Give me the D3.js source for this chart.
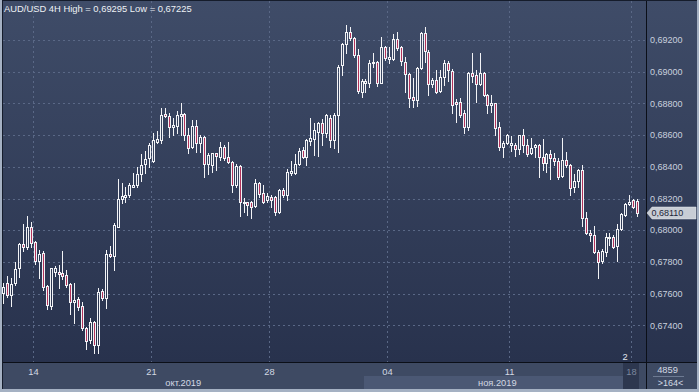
<!DOCTYPE html>
<html><head><meta charset="utf-8">
<script src="https://cdn.jsdelivr.net/npm/d3@7"></script>
<style>html,body{margin:0;padding:0;background:#a5b1c3}svg{display:block}</style>
</head><body><svg id="c" width="699" height="392"></svg>
<script>
// ---- data (AUD/USD 4H) ----
const open = [
.67602,.67665,.67592,.67665,.67760,.67913,.67897,.68023,.67928,.67808,
.67855,.67648,.67522,.67739,.67739,.67728,.67716,.67661,.67545,.67564,
.67522,.67386,.67308,.67419,.67277,.67615,.67571,.67850,.67840,.68023,
.68195,.68212,.68223,.68275,.68286,.68355,.68418,.68454,.68439,.68559,
.68570,.68734,.68721,.68654,.68658,.68721,.68731,.68601,.68523,.68658,
.68549,.68591,.68418,.68412,.68485,.68464,.68523,.68460,.68433,.68286,
.68405,.68170,.68176,.68176,.68153,.68300,.68233,.68191,.68212,.68212,
.68117,.68254,.68223,.68363,.68363,.68418,.68506,.68464,.68565,.68574,
.68622,.68675,.68612,.68706,.68569,.68727,.69042,.69175,.69252,.69210,
.69105,.68874,.68926,.68931,.69053,.69063,.68931,.69154,.69078,.69078,
.69204,.69154,.69063,.68985,.68838,.68821,.69021,.69242,.69126,.68922,
.68947,.68880,.68968,.69057,.69006,.68811,.68811,.68737,.68653,.68994,
.68979,.68922,.68994,.68853,.68790,.68801,.68649,.68523,.68552,.68538,
.68538,.68510,.68601,.68538,.68489,.68523,.68538,.68464,.68422,.68481,
.68454,.68439,.68342,.68443,.68411,.68271,.68313,.68380,.68075,.67985,
.67970,.67865,.67808,.67865,.67949,.67955,.67900,.68006,.68096,.68165,
.68191,.68186];
const high = [
.67665,.67712,.67697,.67800,.67918,.68037,.68090,.68054,.67934,.67876,
.67867,.67655,.67764,.67775,.67781,.67867,.67749,.67669,.67665,.67581,
.67550,.67392,.67449,.67425,.67638,.67627,.67876,.67901,.68044,.68323,
.68296,.68271,.68296,.68363,.68401,.68481,.68500,.68549,.68612,.68628,
.68769,.68769,.68742,.68706,.68755,.68801,.68738,.68643,.68696,.68696,
.68601,.68595,.68485,.68490,.68490,.68559,.68538,.68559,.68439,.68418,
.68412,.68202,.68180,.68185,.68321,.68307,.68286,.68233,.68223,.68216,
.68258,.68265,.68384,.68439,.68481,.68517,.68527,.68574,.68706,.68675,
.68685,.68700,.68734,.68727,.68737,.69042,.69179,.69295,.69284,.69221,
.69141,.68952,.68952,.69074,.69116,.69069,.69221,.69162,.69158,.69238,
.69252,.69162,.69095,.68990,.68958,.69032,.69252,.69280,.69137,.68958,
.69011,.69011,.69074,.69069,.69015,.68825,.68832,.68758,.69000,.69116,
.69011,.69116,.69000,.68859,.68853,.68805,.68685,.68565,.68607,.68594,
.68552,.68601,.68636,.68573,.68580,.68544,.68544,.68573,.68485,.68506,
.68489,.68454,.68580,.68496,.68418,.68355,.68384,.68411,.68117,.68001,
.68027,.67875,.67879,.67985,.67985,.67970,.68039,.68111,.68170,.68222,
.68195,.68195];
const low = [
.67539,.67581,.67522,.67655,.67707,.67871,.67880,.67897,.67787,.67701,
.67623,.67503,.67503,.67714,.67634,.67690,.67644,.67472,.67413,.67497,
.67371,.67249,.67287,.67228,.67225,.67560,.67507,.67833,.67749,.68019,
.68174,.68180,.68212,.68270,.68275,.68313,.68363,.68401,.68433,.68549,
.68553,.68717,.68591,.68601,.68612,.68601,.68570,.68485,.68517,.68496,
.68496,.68334,.68355,.68370,.68380,.68443,.68443,.68427,.68244,.68275,
.68090,.68117,.68096,.68075,.68149,.68212,.68174,.68180,.68149,.68096,
.68107,.68212,.68191,.68349,.68355,.68412,.68454,.68412,.68538,.68475,
.68469,.68538,.68591,.68527,.68516,.68495,.68979,.69116,.69200,.69095,
.68863,.68838,.68874,.68905,.69032,.68910,.68926,.69074,.69053,.69074,
.69137,.69042,.68874,.68779,.68775,.68783,.69015,.69063,.68853,.68905,
.68868,.68874,.68916,.68943,.68737,.68685,.68716,.68611,.68632,.68937,
.68811,.68916,.68847,.68742,.68748,.68601,.68506,.68460,.68544,.68502,
.68468,.68481,.68496,.68468,.68481,.68460,.68334,.68380,.68369,.68321,
.68411,.68321,.68338,.68401,.68222,.68243,.68275,.68027,.67976,.67934,
.67858,.67696,.67791,.67837,.67907,.67886,.67808,.68001,.68090,.68159,
.68138,.68090];
const close = [
.67644,.67592,.67661,.67754,.67913,.67897,.68023,.67918,.67808,.67850,
.67640,.67529,.67760,.67760,.67724,.67712,.67655,.67545,.67560,.67514,
.67381,.67304,.67419,.67277,.67611,.67571,.67850,.67838,.68033,.68197,
.68216,.68223,.68284,.68286,.68355,.68412,.68452,.68538,.68570,.68574,
.68727,.68720,.68649,.68664,.68727,.68731,.68601,.68517,.68658,.68549,
.68591,.68418,.68475,.68485,.68469,.68523,.68454,.68433,.68286,.68405,
.68180,.68180,.68159,.68149,.68296,.68229,.68180,.68216,.68191,.68117,
.68254,.68223,.68370,.68376,.68418,.68502,.68464,.68570,.68580,.68633,
.68675,.68616,.68727,.68569,.68727,.69032,.69175,.69252,.69210,.69105,
.68880,.68943,.68943,.69057,.69063,.68926,.69154,.69084,.69095,.69204,
.69147,.69069,.68985,.68832,.68821,.69021,.69246,.69133,.68922,.68947,
.68874,.68968,.69057,.69011,.68790,.68796,.68727,.68653,.68994,.68973,
.68922,.68994,.68853,.68790,.68801,.68643,.68523,.68548,.68601,.68552,
.68510,.68601,.68538,.68481,.68517,.68540,.68464,.68422,.68481,.68454,
.68439,.68338,.68443,.68411,.68264,.68313,.68380,.68075,.67985,.67970,
.67865,.67802,.67871,.67955,.67955,.67896,.68006,.68102,.68165,.68178,
.68149,.68110];
const weekStartIdx = [8, 38, 68, 98, 129, 160];
const weekLabels = ["14", "21", "28", "04", "11", "18"];
const monthStartIdx = [0, 92];
const monthLabels = ["окт.2019", "ноя.2019"];
const yTicks = [0.674, 0.676, 0.678, 0.680, 0.682, 0.684, 0.686, 0.688, 0.690, 0.692];
const titleText = "AUD/USD 4H High = 0,69295 Low = 0,67225";
const lastPrice = 0.68110;
const counterTop = "4859", counterBottom = ">164<", barMark = "2";

// ---- drawing ----
const svg = d3.select("#c");
const n = open.length;
const PX0 = 3, PX1 = 646, PY0 = 1, PY1 = 362, BOT = 389, RX1 = 697;
const step = 3.935, x0 = 1.5;
const x = d3.scaleBand().domain(d3.range(n)).range([x0, x0 + n * step]);
const y = d3.scaleLinear().domain([0.674, 0.692]).range([325.4, 40]);
const font = "'Liberation Sans', Arial, sans-serif";
const fmt = v => v.toFixed(5).replace(".", ",");

const defs = svg.append("defs");
const lg = defs.append("linearGradient").attr("id", "bg").attr("x1", 0).attr("y1", 0).attr("x2", 0).attr("y2", 1);
lg.append("stop").attr("offset", "0%").attr("stop-color", "#3f4c68");
lg.append("stop").attr("offset", "100%").attr("stop-color", "#28324d");

svg.append("rect").attr("x", 2).attr("y", 0).attr("width", RX1 - 2).attr("height", BOT).attr("fill", "#151c2b");
svg.append("rect").attr("x", PX0).attr("y", PY0).attr("width", RX1 - PX0).attr("height", PY1 - PY0).attr("fill", "url(#bg)");
svg.append("rect").attr("x", PX0).attr("y", PY1).attr("width", RX1 - PX0).attr("height", BOT - PY1).attr("fill", "#3e4a63");

const lastIdx = weekStartIdx[weekStartIdx.length - 1];
const monthEnd = [monthStartIdx[1], lastIdx];
monthStartIdx.forEach((s, i) => {
  const xa = Math.max(PX0, x(s)), xb = x(monthEnd[i]);
  if (i % 2 === 1) svg.append("rect").attr("x", Math.round(xa)).attr("y", 376).attr("width", Math.round(xb - xa)).attr("height", BOT - 376).attr("fill", "#4b5874");
  svg.append("text").attr("x", (xa + xb) / 2).attr("y", 385.5).attr("text-anchor", "middle")
    .attr("font-family", font).attr("font-size", "9.3px").attr("fill", "#d3d9e3").text(monthLabels[i]);
});

const lastWeekX = Math.round(x(lastIdx));
svg.append("rect").attr("x", lastWeekX - 8).attr("y", PY1).attr("width", 16).attr("height", BOT - PY1).attr("fill", "#2d374f");

const grid = svg.append("g").attr("stroke", "#5a6886").attr("stroke-dasharray", "2,3").attr("shape-rendering", "crispEdges");
yTicks.forEach(t => {
  const yy = Math.round(y(t)) + 0.5;
  grid.append("line").attr("x1", PX0).attr("x2", PX1).attr("y1", yy).attr("y2", yy);
});
weekStartIdx.forEach(i => {
  const xx = Math.round(x(i)) + 0.5;
  grid.append("line").attr("x1", xx).attr("x2", xx).attr("y1", PY0).attr("y2", PY1);
});

const cg = svg.append("g").attr("shape-rendering", "crispEdges");
const idx = d3.range(n);
const cxOf = i => Math.round(x(i) + x.bandwidth() / 2);
const bodyTop = i => Math.round(y(Math.max(open[i], close[i])));
const bodyBot = i => Math.round(y(Math.min(open[i], close[i])));
cg.selectAll("line.uw").data(idx.filter(i => Math.round(y(high[i])) < bodyTop(i))).join("line")
  .attr("x1", i => cxOf(i) + 0.5).attr("x2", i => cxOf(i) + 0.5)
  .attr("y1", i => Math.round(y(high[i]))).attr("y2", i => bodyTop(i)).attr("stroke", "#f2f3f6");
cg.selectAll("line.lw").data(idx.filter(i => Math.round(y(low[i])) > bodyBot(i))).join("line")
  .attr("x1", i => cxOf(i) + 0.5).attr("x2", i => cxOf(i) + 0.5)
  .attr("y1", i => bodyBot(i) + 1).attr("y2", i => Math.round(y(low[i])) + 1).attr("stroke", "#f2f3f6");
cg.selectAll("rect").data(idx).join("rect")
  .attr("x", i => cxOf(i) - 0.5).attr("y", i => bodyTop(i) + 0.5)
  .attr("width", 2).attr("height", i => Math.max(bodyBot(i) - bodyTop(i), 1))
  .attr("fill", i => close[i] >= open[i] ? "none" : "#b2325a")
  .attr("stroke", "#f2f3f6");

svg.append("line").attr("x1", PX0).attr("x2", RX1).attr("y1", PY1 + 0.5).attr("y2", PY1 + 0.5).attr("stroke", "#0b0f18");
svg.append("line").attr("x1", PX1 + 0.5).attr("x2", PX1 + 0.5).attr("y1", PY0).attr("y2", BOT).attr("stroke", "#0b0f18");

svg.append("g").selectAll("text").data(yTicks).join("text")
  .attr("x", 650).attr("y", t => y(t) + 3.2)
  .attr("font-family", font).attr("font-size", "9px").attr("fill", "#c9d1de").text(fmt);

const ly = Math.round(y(lastPrice));
svg.append("path").attr("d", `M647,${ly} L652,${ly - 6} L696,${ly - 6} L696,${ly + 6} L652,${ly + 6} Z`)
  .attr("fill", "#c8cdd5").attr("stroke", "#e5e8ed").attr("stroke-width", 0.5);
svg.append("text").attr("x", 651.5).attr("y", ly + 3.3).attr("font-family", font).attr("font-size", "9px")
  .attr("fill", "#1d2638").text(fmt(lastPrice));

weekStartIdx.forEach((i, k) => {
  svg.append("text").attr("x", Math.round(x(i)) + 0.5).attr("y", 374.5).attr("text-anchor", "middle")
    .attr("font-family", font).attr("font-size", "9.3px")
    .attr("fill", k === weekStartIdx.length - 1 ? "#7c889e" : "#d3d9e3").text(weekLabels[k]);
});
svg.append("text").attr("x", lastWeekX - 6).attr("y", 359.5).attr("text-anchor", "middle")
  .attr("font-family", font).attr("font-size", "9.3px").attr("fill", "#e2e6ee").text(barMark);

svg.append("text").attr("x", 667.5).attr("y", 373).attr("text-anchor", "middle")
  .attr("font-family", font).attr("font-size", "9.3px").attr("fill", "#d3d9e3").text(counterTop);
svg.append("line").attr("x1", 653).attr("x2", 684).attr("y1", 376.5).attr("y2", 376.5).attr("stroke", "#6d7a92");
svg.append("text").attr("x", 670.5).attr("y", 386).attr("text-anchor", "middle")
  .attr("font-family", font).attr("font-size", "9px").attr("fill", "#d3d9e3").text(counterBottom);

svg.append("text").attr("x", 4).attr("y", 11.5).attr("font-family", font).attr("font-size", "9.4px")
  .attr("fill", "#eef1f5").text(titleText);
</script></body></html>
